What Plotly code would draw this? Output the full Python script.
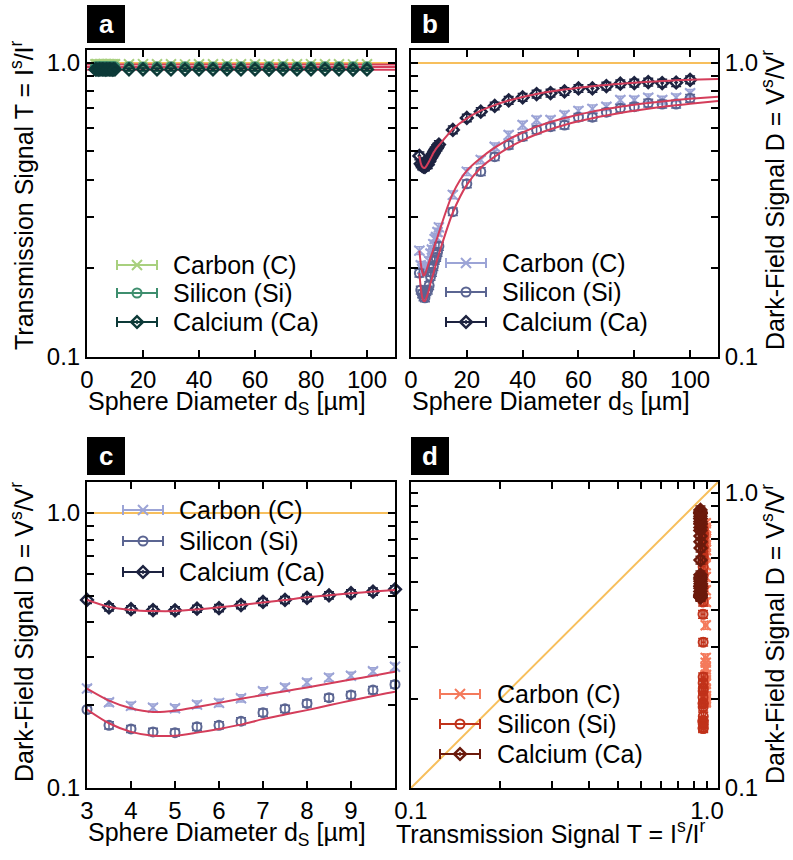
import plotly.graph_objects as go

# ---------------- data ----------------
diam = [3, 3.5, 4, 4.5, 5, 5.5, 6, 6.5, 7, 7.5, 8, 8.5, 9, 9.5, 10,
        15, 20, 25, 30, 35, 40, 45, 50, 55, 60, 65, 70, 75, 80, 85, 90, 95, 100]

T_C = [0.990, 0.991, 0.989, 0.990, 0.990, 0.991, 0.990, 0.989, 0.990, 0.990, 0.991, 0.990, 0.989, 0.990, 0.990,
       0.990, 0.991, 0.990, 0.990, 0.989, 0.990, 0.990, 0.991, 0.990, 0.990, 0.989, 0.990, 0.990, 0.991, 0.990, 0.990, 0.989, 0.990]
T_Si = [0.970, 0.969, 0.971, 0.970, 0.970, 0.969, 0.970, 0.971, 0.970, 0.970, 0.969, 0.970, 0.971, 0.970, 0.970,
        0.970, 0.969, 0.970, 0.971, 0.970, 0.970, 0.969, 0.970, 0.970, 0.971, 0.970, 0.970, 0.969, 0.970, 0.970, 0.971, 0.970, 0.970]
T_Ca = [0.950, 0.951, 0.949, 0.950, 0.950, 0.951, 0.950, 0.949, 0.950, 0.950, 0.951, 0.950, 0.949, 0.950, 0.950,
        0.950, 0.951, 0.950, 0.950, 0.949, 0.950, 0.950, 0.951, 0.950, 0.950, 0.949, 0.950, 0.950, 0.951, 0.950, 0.950, 0.949, 0.950]

D_C = [0.230, 0.205, 0.199, 0.196, 0.195, 0.201, 0.204, 0.212, 0.225, 0.232, 0.242, 0.252, 0.256, 0.266, 0.276,
       0.356, 0.427, 0.468, 0.519, 0.569, 0.615, 0.640, 0.640, 0.665, 0.687, 0.698, 0.710, 0.748, 0.748, 0.762, 0.748, 0.762, 0.789]
D_Si = [0.193, 0.169, 0.164, 0.160, 0.159, 0.167, 0.169, 0.175, 0.188, 0.194, 0.203, 0.213, 0.218, 0.227, 0.238,
        0.312, 0.388, 0.427, 0.480, 0.526, 0.562, 0.592, 0.607, 0.615, 0.654, 0.654, 0.680, 0.701, 0.710, 0.730, 0.725, 0.725, 0.758]
D_Ca = [0.483, 0.454, 0.447, 0.444, 0.443, 0.449, 0.451, 0.463, 0.475, 0.483, 0.492, 0.502, 0.511, 0.518, 0.528,
        0.592, 0.650, 0.683, 0.714, 0.746, 0.764, 0.784, 0.790, 0.800, 0.819, 0.819, 0.834, 0.850, 0.854, 0.861, 0.854, 0.858, 0.876]

# fitted model curves
fit_x = [3, 3.5, 4, 4.5, 5, 5.5, 6, 6.5, 7, 7.5, 8, 8.5, 9, 9.5, 10,
         15, 20, 25, 30, 35, 40, 45, 50, 55, 60, 65, 70, 75, 80, 85, 90, 95, 100, 110]
fit_C = [0.230, 0.208, 0.195, 0.189, 0.191, 0.197, 0.204, 0.211, 0.218, 0.225, 0.232, 0.240, 0.248, 0.256, 0.265,
         0.360, 0.430, 0.475, 0.515, 0.550, 0.580, 0.607, 0.630, 0.650, 0.667, 0.683, 0.697, 0.710, 0.721, 0.731, 0.740, 0.748, 0.755, 0.768]
fit_Si = [0.193, 0.172, 0.160, 0.155, 0.155, 0.159, 0.164, 0.170, 0.178, 0.185, 0.192, 0.200, 0.208, 0.216, 0.224,
          0.310, 0.385, 0.440, 0.480, 0.515, 0.545, 0.572, 0.595, 0.615, 0.633, 0.649, 0.663, 0.676, 0.688, 0.699, 0.709, 0.718, 0.726, 0.743]
fit_Ca = [0.483, 0.456, 0.444, 0.440, 0.440, 0.446, 0.454, 0.463, 0.473, 0.483, 0.494, 0.502, 0.511, 0.518, 0.525,
          0.595, 0.648, 0.688, 0.719, 0.745, 0.766, 0.784, 0.799, 0.812, 0.823, 0.833, 0.842, 0.850, 0.857, 0.863, 0.868, 0.873, 0.877, 0.882]
fitT_x = [0, 110]
fitT_C = [0.988, 0.988]
fitT_Si = [0.968, 0.968]
fitT_Ca = [0.948, 0.948]

ref_x = [0, 110]
ref_y = [1.0, 1.0]
diag = [0.1, 1.1]

names = ["Carbon (C)", "Silicon (Si)", "Calcium (Ca)"]
log_ticks = [0.1, 0.2, 0.3, 0.4, 0.5, 0.6, 0.7, 0.8, 0.9, 1.0]
log_text = ["0.1", "", "", "", "", "", "", "", "", "1.0"]
lin_ticks = [0, 20, 40, 60, 80, 100]
c_ticks = [3, 4, 5, 6, 7, 8, 9]

# ---------------- styling ----------------
W, H = 793, 860
FONT = "Liberation Sans, Arial, sans-serif"
RED = "#d43d5a"
ORANGE = "#f7bf5c"
cols = {
    "a": ["#a8d07e", "#3e8e6e", "#0d3a38"],
    "b": ["#9ca4d6", "#5b6592", "#1d2340"],
    "c": ["#9ca4d6", "#5b6592", "#1d2340"],
    "d": ["#f47a5c", "#c0321a", "#6b1a0c"],
}
symbols = ["x-thin-open", "circle-open", "diamond-open-dot"]
msizes = [10, 9, 9]

def px(x):
    return x / W

def py(y):
    return 1 - y / H

boxes = {"a": (87, 50, 395, 357), "b": (411, 50, 718, 357),
         "c": (87, 482, 395, 788), "d": (411, 482, 718, 788)}
axn = {"a": ("x", "y"), "b": ("x2", "y2"), "c": ("x3", "y3"), "d": ("x4", "y4")}

fig = go.Figure()

def marker(p, i):
    c = cols[p][i]
    return dict(symbol=symbols[i], size=msizes[i], color=c,
                line=dict(color=c, width=2.5 if i == 2 else 2))

# reference lines
for p in ["a", "b", "c"]:
    xa, ya = axn[p]
    fig.add_trace(go.Scatter(x=ref_x, y=ref_y, mode="lines", xaxis=xa, yaxis=ya,
                             line=dict(color=ORANGE, width=2), showlegend=False, hoverinfo="skip"))
fig.add_trace(go.Scatter(x=diag, y=diag, mode="lines", xaxis="x4", yaxis="y4",
                         line=dict(color=ORANGE, width=2), showlegend=False, hoverinfo="skip"))

Ts = [T_C, T_Si, T_Ca]
Ds = [D_C, D_Si, D_Ca]
fitTs = [fitT_C, fitT_Si, fitT_Ca]
fits = [fit_C, fit_Si, fit_Ca]

# panel a : transmission vs diameter
for i in range(3):
    fig.add_trace(go.Scatter(x=fitT_x, y=fitTs[i], mode="lines", xaxis="x", yaxis="y",
                             line=dict(color=RED, width=2), showlegend=False))
for i in range(3):
    fig.add_trace(go.Scatter(x=diam, y=Ts[i], mode="markers", xaxis="x", yaxis="y",
                             marker=marker("a", i), cliponaxis=False,
                             error_y=dict(type="percent", value=1.0, width=5, thickness=1.5, color=cols["a"][i]),
                             showlegend=False))

# panels b, c : dark-field vs diameter
for p in ["b", "c"]:
    xa, ya = axn[p]
    n = len(diam) if p == "b" else 15
    for i in range(3):
        fig.add_trace(go.Scatter(x=diam[:n], y=Ds[i][:n], mode="markers", xaxis=xa, yaxis=ya,
                                 marker=marker(p, i), cliponaxis=False,
                                 error_y=dict(type="percent", value=3.0, width=5, thickness=1.5, color=cols[p][i]),
                                 showlegend=False))
    for i in range(3):
        fig.add_trace(go.Scatter(x=fit_x, y=fits[i], mode="lines", xaxis=xa, yaxis=ya,
                                 line=dict(color=RED, width=2, shape="spline", smoothing=0.8),
                                 showlegend=False))

# panel d : dark-field vs transmission
for i in range(3):
    fig.add_trace(go.Scatter(x=Ts[i], y=Ds[i], mode="markers", xaxis="x4", yaxis="y4",
                             marker=marker("d", i),
                             error_y=dict(type="percent", value=3.0, width=5, thickness=1.5, color=cols["d"][i]),
                             error_x=dict(type="percent", value=1.5, width=5, thickness=1.5, color=cols["d"][i]),
                             showlegend=False))

# legends drawn on a full-figure overlay axis (pixel units)
leg = {"a": (137, [265, 293, 322], 171), "b": (466, [263, 292, 322], 500),
       "c": (143, [510, 541, 572], 177), "d": (460, [694, 724, 754], 495)}
annotations = []
for p, (cx, rows, tx) in leg.items():
    for i in range(3):
        fig.add_trace(go.Scatter(x=[cx], y=[rows[i]], mode="markers", xaxis="x5", yaxis="y5",
                                 marker=marker(p, i), cliponaxis=False,
                                 error_x=dict(type="constant", value=20, width=5, thickness=2, color=cols[p][i]),
                                 showlegend=False, hoverinfo="skip"))
        annotations.append(dict(x=px(tx), y=py(rows[i]), xref="paper", yref="paper",
                                text=names[i], showarrow=False, xanchor="left", yanchor="middle",
                                font=dict(family=FONT, size=25, color="black")))

# ---------------- axes ----------------
def ax_common():
    return dict(showline=True, linewidth=2, linecolor="black", mirror="allticks",
                ticks="inside", ticklen=7, tickwidth=1.5, tickcolor="black",
                showgrid=False, zeroline=False, automargin=False,
                tickfont=dict(family=FONT, size=24, color="black"))

layout_axes = {}
for p, (l, t, r, b) in boxes.items():
    xa, ya = axn[p]
    xk = "xaxis" if xa == "x" else "xaxis" + xa[1:]
    yk = "yaxis" if ya == "y" else "yaxis" + ya[1:]
    xd = ax_common()
    yd = ax_common()
    xd.update(domain=[px(l), px(r)], anchor=ya)
    yd.update(domain=[py(b), py(t)], anchor=xa, type="log",
              tickvals=log_ticks, ticktext=log_text)
    if p in ("a", "b"):
        xd.update(range=[0, 110], tickvals=lin_ticks)
        yd.update(range=[-1, 0.044])
    elif p == "c":
        xd.update(range=[3, 10], tickvals=c_ticks)
        yd.update(range=[-1, 0.113])
    else:
        xd.update(type="log", range=[-1, 0.037], tickvals=log_ticks, ticktext=log_text)
        yd.update(range=[-1, 0.037])
    if p in ("b", "d"):
        yd.update(side="right")
    layout_axes[xk] = xd
    layout_axes[yk] = yd

layout_axes["xaxis5"] = dict(domain=[0, 1], range=[0, W], visible=False, anchor="y5",
                             fixedrange=True, automargin=False)
layout_axes["yaxis5"] = dict(domain=[0, 1], range=[H, 0], visible=False, anchor="x5",
                             fixedrange=True, automargin=False)

# panel letter boxes
shapes = []
for p, (l, t, r, b) in boxes.items():
    bt = t - 45
    shapes.append(dict(type="rect", xref="paper", yref="paper",
                       x0=px(l), x1=px(l + 38), y0=py(bt + 38), y1=py(bt),
                       fillcolor="black", line=dict(width=0)))
    annotations.append(dict(x=px(l + 19), y=py(bt + 19), xref="paper", yref="paper", text="<b>%s</b>" % p,
                            showarrow=False, xanchor="center", yanchor="middle",
                            font=dict(family=FONT, size=26, color="white")))

# axis titles
tT = "Transmission Signal T = I<sup>s</sup>/I<sup>r</sup>"
tD = "Dark-Field Signal D = V<sup>s</sup>/V<sup>r</sup>"
tS = "Sphere Diameter d<sub>S</sub> [µm]"
titles = [
    (tT, 22, 195, -90), (tD, 773, 200, -90), (tD, 22, 632, -90), (tD, 773, 634, -90),
    (tS, 227, 403, 0), (tS, 551, 403, 0), (tS, 227, 834, 0), (tT, 551, 832, 0),
]
for txt, x, y, ang in titles:
    annotations.append(dict(x=px(x), y=py(y), xref="paper", yref="paper", text=txt,
                            showarrow=False, xanchor="center", yanchor="middle", textangle=ang,
                            font=dict(family=FONT, size=25, color="black")))

fig.update_layout(width=W, height=H, margin=dict(l=0, r=0, t=0, b=0, autoexpand=False),
                  paper_bgcolor="white", plot_bgcolor="rgba(0,0,0,0)",
                  showlegend=False, annotations=annotations, shapes=shapes,
                  font=dict(family=FONT, size=24, color="black"), **layout_axes)

fig.write_html("out.html")
